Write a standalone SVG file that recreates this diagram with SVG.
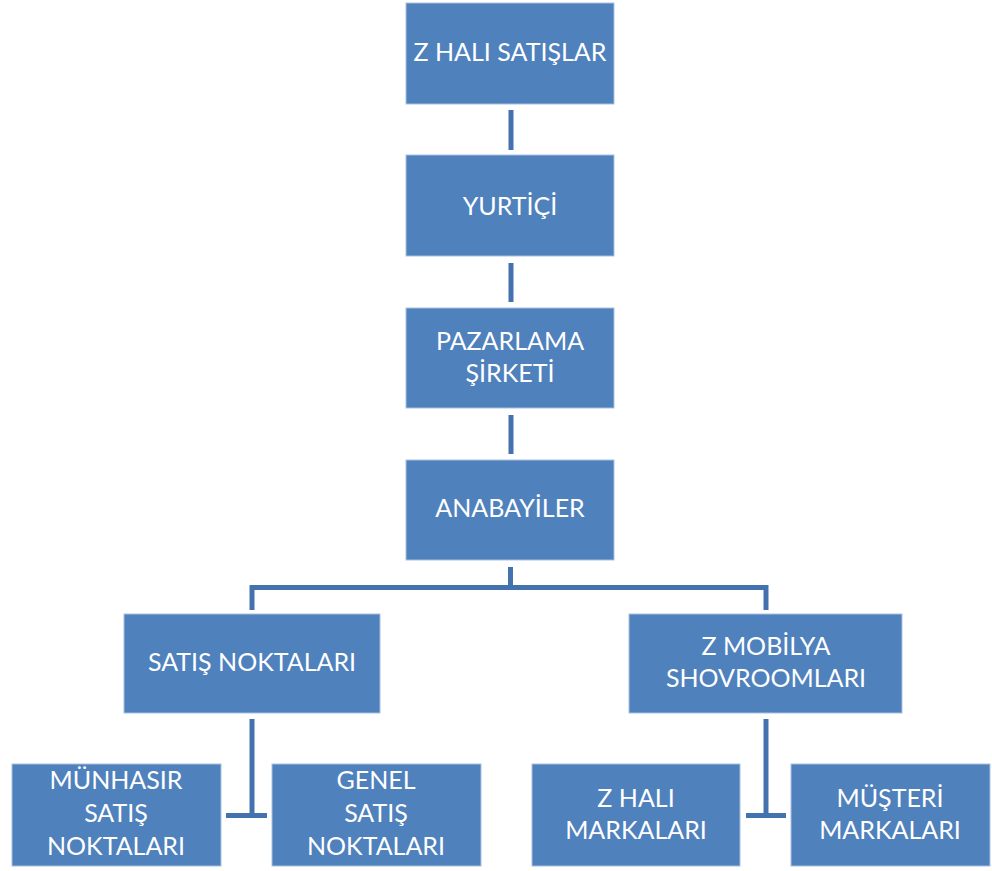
<svg xmlns="http://www.w3.org/2000/svg" width="992" height="871" viewBox="0 0 992 871">
  <style>
    .box { fill: #4F81BD; stroke: #A9C1E0; stroke-width: 1; }
    .lbl { fill: #FFFFFF; font-family: Lato, "Open Sans", sans-serif; font-size: 25px; text-anchor: middle; }
    .con { fill: none; stroke: #4472AE; stroke-width: 5; stroke-linecap: butt; stroke-linejoin: miter; }
  </style>
  <rect width="992" height="871" fill="#FFFFFF"/>

  <!-- connectors -->
  <g id="connectors">
    <line class="con" x1="511" y1="110" x2="511" y2="150" stroke-width="6"/>
    <line class="con" x1="511" y1="263" x2="511" y2="302" stroke-width="6"/>
    <line class="con" x1="511" y1="415" x2="511" y2="454" stroke-width="6"/>
    <line class="con" x1="510.5" y1="567" x2="510.5" y2="587"/>
    <polyline class="con" points="252,610 252,587.5 766,587.5 766,610"/>
    <line class="con" x1="252" y1="719" x2="252" y2="815.5"/>
    <line class="con" x1="226" y1="815.5" x2="267" y2="815.5"/>
    <line class="con" x1="766" y1="719" x2="766" y2="815.5"/>
    <line class="con" x1="746" y1="815.5" x2="786" y2="815.5"/>
  </g>

  <g id="n-z-hali-satislar">
    <rect class="box" x="406" y="3" width="208" height="101"/>
    <text class="lbl" x="510" y="61">Z HALI SATIŞLAR</text>
  </g>
  <g id="n-yurtici">
    <rect class="box" x="406" y="155" width="208" height="101"/>
    <text class="lbl" x="510" y="215">YURTİÇİ</text>
  </g>
  <g id="n-pazarlama">
    <rect class="box" x="406" y="308" width="208" height="100"/>
    <text class="lbl" x="510" y="350">PAZARLAMA</text>
    <text class="lbl" x="510" y="382">ŞİRKETİ</text>
  </g>
  <g id="n-anabayiler">
    <rect class="box" x="406" y="460" width="208" height="100"/>
    <text class="lbl" x="510" y="517">ANABAYİLER</text>
  </g>
  <g id="n-satis-noktalari">
    <rect class="box" x="124" y="614" width="256" height="99"/>
    <text class="lbl" x="252" y="671">SATIŞ NOKTALARI</text>
  </g>
  <g id="n-z-mobilya">
    <rect class="box" x="629" y="614" width="273" height="99"/>
    <text class="lbl" x="766" y="655">Z MOBİLYA</text>
    <text class="lbl" x="766" y="687">SHOVROOMLARI</text>
  </g>
  <g id="n-munhasir">
    <rect class="box" x="12" y="764" width="209" height="102"/>
    <text class="lbl" x="116" y="789">MÜNHASIR</text>
    <text class="lbl" x="116" y="822">SATIŞ</text>
    <text class="lbl" x="116" y="855">NOKTALARI</text>
  </g>
  <g id="n-genel">
    <rect class="box" x="272" y="764" width="209" height="102"/>
    <text class="lbl" x="376" y="789">GENEL</text>
    <text class="lbl" x="376" y="822">SATIŞ</text>
    <text class="lbl" x="376" y="855">NOKTALARI</text>
  </g>
  <g id="n-z-hali-markalari">
    <rect class="box" x="532" y="764" width="208" height="102"/>
    <text class="lbl" x="636" y="807">Z HALI</text>
    <text class="lbl" x="636" y="839">MARKALARI</text>
  </g>
  <g id="n-musteri-markalari">
    <rect class="box" x="791" y="764" width="199" height="102"/>
    <text class="lbl" x="890" y="807">MÜŞTERİ</text>
    <text class="lbl" x="890" y="839">MARKALARI</text>
  </g>
</svg>
